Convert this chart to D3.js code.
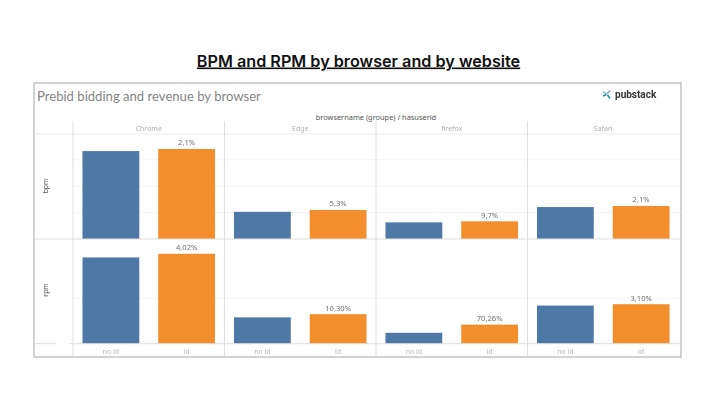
<!DOCTYPE html>
<html>
<head>
<meta charset="utf-8">
<script src="https://cdnjs.cloudflare.com/ajax/libs/d3/7.8.5/d3.min.js"></script>
<style>
html, body { margin: 0; padding: 0; background: #fff; }
svg { display: block; }
</style>
</head>
<body>
<div id="chart"></div>
<script>
// values, in units of one gridline step
const browsers = ["Chrome", "Edge", "firefox", "Safari"];
const groups = ["no id", "id"];
const bpmNoId = [3.33, 1.03, 0.63, 1.21];
const bpmId = [3.41, 1.10, 0.67, 1.25];
const rpmNoId = [1.90, 0.58, 0.24, 0.84];
const rpmId = [1.98, 0.65, 0.42, 0.87];
const bpmLabels = ["2,1%", "5,3%", "9,7%", "2,1%"];
const rpmLabels = ["4,02%", "10,30%", "70,26%", "3,10%"];
const bpmTicks = [0, 1, 2, 3];
const rpmTicks = [0, 1];

const colors = { "no id": "#4e79a7", "id": "#f28e2b" };
const gridCol = "#ececec", lineCol = "#dedede";
const fr = { l: 34, r: 681, t: 83, b: 357 };

const svg = d3.select("#chart").append("svg")
    .attr("width", 728).attr("height", 404)
    .style("font-family", "'Noto Sans', sans-serif");

svg.append("text")
    .attr("x", 358.5).attr("y", 66.5)
    .attr("text-anchor", "middle")
    .attr("font-family", "Inter, sans-serif")
    .attr("font-weight", 600)
    .attr("font-size", 16.2)
    .attr("fill", "#111")
    .attr("text-decoration", "underline")
    .text("BPM and RPM by browser and by website");

const g = svg.append("g").style("filter", "blur(0.45px)");

g.append("rect")
    .attr("x", fr.l).attr("y", fr.t)
    .attr("width", fr.r - fr.l).attr("height", fr.b - fr.t)
    .attr("fill", "#fff").attr("stroke", "#b5b5b5").attr("stroke-width", 1.2);

g.append("text")
    .attr("x", 37).attr("y", 101)
    .attr("font-family", "Lato, sans-serif")
    .attr("font-size", 13.1)
    .attr("fill", "#858585")
    .text("Prebid bidding and revenue by browser");

g.append("text")
    .attr("x", 376).attr("y", 119.5)
    .attr("text-anchor", "middle")
    .attr("font-size", 7.4)
    .attr("fill", "#555")
    .text("browsername (groupe) / hasuserid");

// logo
const logo = g.append("g").attr("transform", "translate(607,94.5)");
logo.append("path").attr("d", "M-4,-3L-1,-0.5M3,-4L0,-0.5").attr("stroke", "#7fb0bd").attr("stroke-width", 1.5).attr("fill", "none");
logo.append("path").attr("d", "M-4,1.5L-0.5,0M0.5,0.5L3,4").attr("stroke", "#2f8f9d").attr("stroke-width", 1.6).attr("fill", "none");
g.append("text")
    .attr("x", 615).attr("y", 97.5)
    .attr("font-family", "Roboto, sans-serif")
    .attr("font-weight", 700)
    .attr("font-size", 10)
    .attr("fill", "#333")
    .text("pubstack");

// scales
const keys = d3.cross(browsers, groups, (b, k) => b + "|" + k);
const x = d3.scaleBand().domain(keys).range([73, 679]).paddingInner(0.25).paddingOuter(0.125);
const panel = d3.scaleBand().domain(browsers).range([73, 679]);

const rows = [
    { name: "bpm", labelY: 186, y: d3.scaleLinear().domain([0, 4]).range([239, 133.4]), ticks: bpmTicks, a: bpmNoId, b: bpmId, labels: bpmLabels },
    { name: "rpm", labelY: 290, y: d3.scaleLinear().domain([0, 2.2]).range([343.7, 243.8]), ticks: rpmTicks, a: rpmNoId, b: rpmId, labels: rpmLabels }
];

rows.forEach(r => {
    // gridlines
    g.append("g").selectAll("line")
        .data(r.ticks.filter(t => t > 0))
        .join("line")
        .attr("x1", 73).attr("x2", fr.r)
        .attr("y1", d => r.y(d)).attr("y2", d => r.y(d))
        .attr("stroke", "#f3f3f3").attr("stroke-width", 0.8);

    g.append("text")
        .attr("transform", "translate(48," + r.labelY + ") rotate(-90)")
        .attr("text-anchor", "middle")
        .attr("font-size", 6.8)
        .attr("fill", "#555")
        .text(r.name);

    // bars
    const bars = [];
    browsers.forEach((b, i) => {
        bars.push({ key: b + "|no id", group: "no id", v: r.a[i], label: null });
        bars.push({ key: b + "|id", group: "id", v: r.b[i], label: r.labels[i] });
    });
    g.append("g").selectAll("rect")
        .data(bars)
        .join("rect")
        .attr("x", d => x(d.key))
        .attr("width", x.bandwidth())
        .attr("y", d => r.y(d.v))
        .attr("height", d => r.y(0) - r.y(d.v))
        .attr("fill", d => colors[d.group]);

    g.append("g").selectAll("text")
        .data(bars.filter(d => d.label))
        .join("text")
        .attr("x", d => x(d.key) + x.bandwidth() / 2)
        .attr("y", d => r.y(d.v) - 3.6)
        .attr("text-anchor", "middle")
        .attr("font-size", 7.6)
        .attr("fill", "#707070")
        .text(d => d.label);
});

// frame lines of the table
g.append("line").attr("x1", fr.l).attr("x2", fr.r).attr("y1", 134).attr("y2", 134).attr("stroke", gridCol);
g.append("line").attr("x1", fr.l).attr("x2", fr.r).attr("y1", 239).attr("y2", 239).attr("stroke", lineCol);
g.append("line").attr("x1", fr.l).attr("x2", 56).attr("y1", 343.7).attr("y2", 343.7).attr("stroke", lineCol);
g.append("line").attr("x1", 69).attr("x2", fr.r).attr("y1", 343.7).attr("y2", 343.7).attr("stroke", lineCol);

g.append("g").selectAll("line")
    .data(browsers)
    .join("line")
    .attr("x1", d => panel(d)).attr("x2", d => panel(d))
    .attr("y1", 121).attr("y2", fr.b)
    .attr("stroke", lineCol);

// facet headers and bottom labels
g.append("g").selectAll("text")
    .data(browsers)
    .join("text")
    .attr("x", d => panel(d) + panel.bandwidth() / 2)
    .attr("y", 131)
    .attr("text-anchor", "middle")
    .attr("font-size", 7)
    .attr("fill", "#b0b0b0")
    .text(d => d);

g.append("g").selectAll("text")
    .data(keys)
    .join("text")
    .attr("x", d => x(d) + x.bandwidth() / 2)
    .attr("y", 354)
    .attr("text-anchor", "middle")
    .attr("font-size", 7)
    .attr("fill", "#b8b8b8")
    .text(d => d.split("|")[1]);
</script>
</body>
</html>
